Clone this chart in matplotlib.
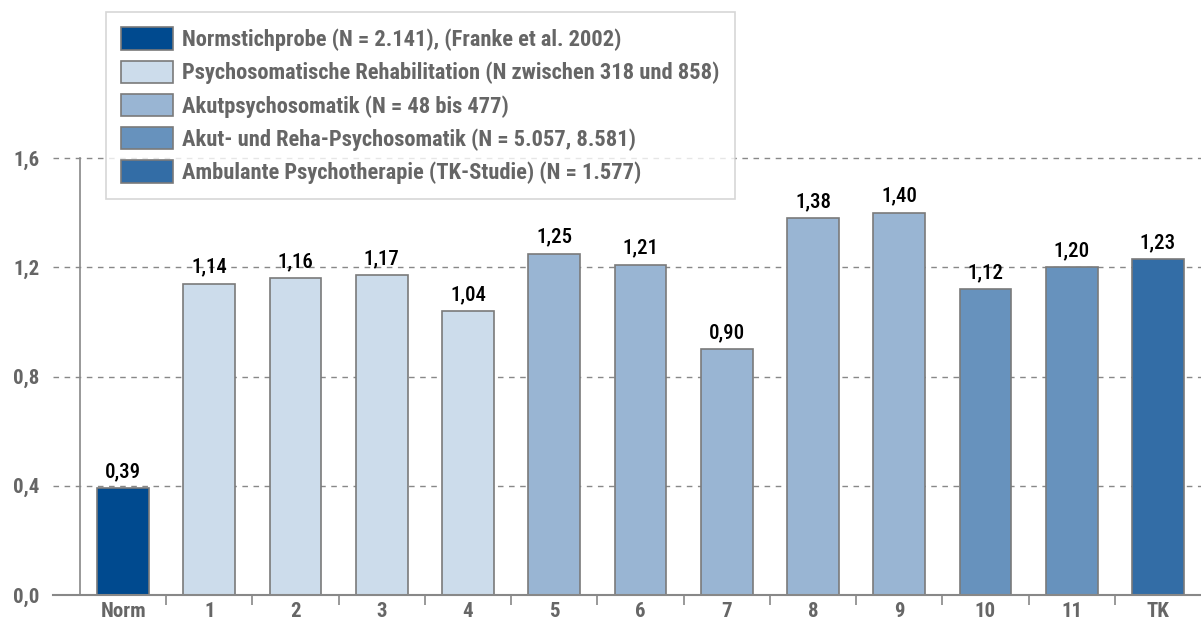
import matplotlib
matplotlib.use("Agg")
import matplotlib.pyplot as plt
from matplotlib.patches import Patch
from matplotlib import font_manager

categories = ["Norm", "1", "2", "3", "4", "5", "6", "7", "8", "9", "10", "11", "TK"]
values = [0.39, 1.14, 1.16, 1.17, 1.04, 1.25, 1.21, 0.90, 1.38, 1.40, 1.12, 1.20, 1.23]
labels = ["0,39", "1,14", "1,16", "1,17", "1,04", "1,25", "1,21", "0,90", "1,38", "1,40", "1,12", "1,20", "1,23"]
groups = [0, 1, 1, 1, 1, 2, 2, 2, 2, 2, 3, 3, 4]
group_names = [
    "Normstichprobe (N = 2.141), (Franke et al. 2002)",
    "Psychosomatische Rehabilitation (N zwischen 318 und 858)",
    "Akutpsychosomatik (N = 48 bis 477)",
    "Akut- und Reha-Psychosomatik (N = 5.057, 8.581)",
    "Ambulante Psychotherapie (TK-Studie) (N = 1.577)",
]
group_colors = ["#004A8F", "#CCDCEB", "#99B5D3", "#6792BD", "#336DA6"]
yticks = [0.0, 0.4, 0.8, 1.2, 1.6]
ytick_labels = ["0,0", "0,4", "0,8", "1,2", "1,6"]

avail = {f.name for f in font_manager.fontManager.ttflist}
fam = [f for f in ["Liberation Sans Narrow", "Roboto Condensed", "Open Sans", "DejaVu Sans"] if f in avail]
plt.rcParams["font.family"] = fam

gray = "#666666"
edge = "#7a7a7a"

fig = plt.figure(figsize=(12.01, 6.21), dpi=100)
W, H = 1201, 621
ax = fig.add_axes([80 / W, 26 / H, (1201 - 80) / W, (595 - 158) / H])

x = list(range(len(categories)))
cols = [group_colors[g] for g in groups]
ax.bar(x, values, width=0.6, color=cols, edgecolor=edge, linewidth=1.2, zorder=3)

for xi, v, lab in zip(x, values, labels):
    ax.text(xi, v + 0.025, lab, ha="center", va="bottom", fontsize=15,
            fontweight="medium", color="black", zorder=4)

ax.set_xlim(-0.5, len(categories) - 0.5)
ax.set_ylim(0, 1.6)

for yt in yticks[1:]:
    ax.plot([-0.81, len(categories) - 0.5], [yt, yt], ls=(0, (4, 4)), color="#888888",
            lw=1.0, clip_on=False, zorder=1)
ax.plot([-0.81, len(categories) - 0.5], [0, 0], color="#888888", lw=1.5, clip_on=False, zorder=5)

for s in ["top", "right", "bottom"]:
    ax.spines[s].set_visible(False)
ax.spines["left"].set_color("#888888")
ax.spines["left"].set_linewidth(1.2)

ax.set_yticks(yticks)
ax.set_yticklabels(ytick_labels)
ax.tick_params(axis="y", length=0, pad=29, labelsize=15, labelcolor=gray)
for t in ax.get_yticklabels():
    t.set_fontweight("bold")

ax.set_xticks(x)
ax.set_xticklabels(categories)
ax.tick_params(axis="x", length=0, pad=5, labelsize=15, labelcolor=gray)
for t in ax.get_xticklabels():
    t.set_fontweight("bold")
ax.set_xticks([i + 0.5 for i in x[:-1]], minor=True)
ax.tick_params(axis="x", which="minor", length=7, color="#888888", width=1.2, direction="out")

handles = [Patch(facecolor=c, edgecolor=edge, linewidth=1.2) for c in group_colors]
leg = fig.legend(handles, group_names, loc="upper left",
                 bbox_to_anchor=(106 / W, 1 - 12 / H), frameon=True, fancybox=False,
                 handlelength=2.3, handleheight=1.15, handletextpad=0.4, labelspacing=0.42,
                 borderpad=0.68, borderaxespad=0, prop={"size": 16.2, "weight": "bold"})
leg.get_frame().set_edgecolor("#cccccc")
leg.get_frame().set_linewidth(1.2)
for t in leg.get_texts():
    t.set_color(gray)

fig.savefig("out.png", dpi=100)
